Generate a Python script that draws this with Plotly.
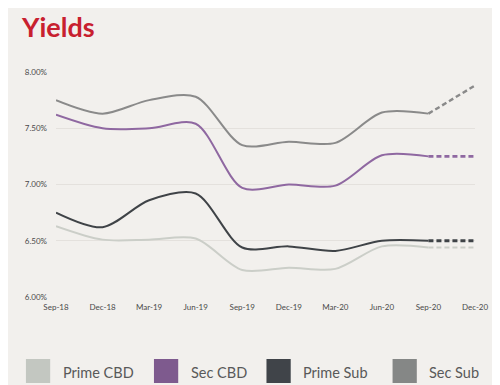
import plotly.graph_objects as go

quarters = ["Sep-18", "Dec-18", "Mar-19", "Jun-19", "Sep-19", "Dec-19",
            "Mar-20", "Jun-20", "Sep-20", "Dec-20"]
series_names = ["Prime CBD", "Sec CBD", "Prime Sub", "Sec Sub"]
prime_cbd = [6.63, 6.51, 6.51, 6.52, 6.24, 6.26, 6.25, 6.45, 6.44, 6.44]
sec_cbd = [7.62, 7.50, 7.50, 7.54, 6.97, 7.00, 6.99, 7.26, 7.25, 7.25]
prime_sub = [6.75, 6.62, 6.86, 6.92, 6.44, 6.45, 6.41, 6.50, 6.50, 6.50]
sec_sub = [7.75, 7.63, 7.75, 7.78, 7.35, 7.38, 7.37, 7.64, 7.63, 7.88]
y_ticks = [6.0, 6.5, 7.0, 7.5, 8.0]
y_tick_labels = ["6.00%", "6.50%", "7.00%", "7.50%", "8.00%"]

line_colors = ["#cbcec8", "#8f68a1", "#3f4347", "#8a8a8a"]
swatch_colors = ["#c3c7c1", "#7e5a8e", "#404449", "#858786"]
forecast_widths = [2.2, 2.6, 3.0, 2.4]
all_series = [prime_cbd, sec_cbd, prime_sub, sec_sub]

fig = go.Figure()
n_actual = 9  # Sep-18 .. Sep-20 actual, Dec-20 forecast
for name, vals, col, fw in zip(series_names, all_series, line_colors, forecast_widths):
    fig.add_trace(go.Scatter(
        x=quarters[:n_actual], y=vals[:n_actual], mode="lines", name=name,
        line=dict(color=col, width=2.0, shape="spline", smoothing=0.85),
        showlegend=False, hoverinfo="skip"))
    fig.add_trace(go.Scatter(
        x=quarters[n_actual - 1:], y=vals[n_actual - 1:], mode="lines", name=name,
        line=dict(color=col, width=fw, dash="5px,3px"),
        showlegend=False, hoverinfo="skip"))

# page body has an 8px margin; figure coordinates are screen pixels minus 8
OFF = 8
FW, FH = 500 - OFF, 385 - OFF
L, R, T, B = 56 - OFF, 488 - OFF, 72 - OFF, 297 - OFF
W, H = R - L, B - T
def px(x):
    return (x - OFF - L) / W
def py(y):
    return (B - (y - OFF)) / H

shapes = []
annotations = []
swatch_x = [25, 157, 273, 403]
for name, sx, sc in zip(series_names, swatch_x, swatch_colors):
    shapes.append(dict(type="rect", xref="paper", yref="paper",
                       x0=px(sx), x1=px(sx + 25), y0=py(359), y1=py(383),
                       fillcolor=sc, line=dict(width=0)))
    annotations.append(dict(xref="paper", yref="paper", x=px(sx + 36), y=py(372),
                            text=name, showarrow=False, xanchor="left", yanchor="middle",
                            font=dict(family="Lato, 'Source Sans Pro', sans-serif", size=14.5, color="#595959")))

fig.update_layout(
    width=FW, height=FH,
    margin=dict(l=L, r=FW - R, t=T, b=FH - B),
    paper_bgcolor="#f2f0ed", plot_bgcolor="#f2f0ed",
    title=dict(text="<b>Yields</b>", x=(22 - OFF) / FW, xanchor="left",
               y=1 - (28 - OFF) / FH, yanchor="middle",
               font=dict(family="Lato, sans-serif", size=27, color="#c8202f")),
    xaxis=dict(type="category", categoryorder="array", categoryarray=quarters,
               range=[0, len(quarters) - 1], showgrid=False, zeroline=False, showline=False,
               ticks="", tickfont=dict(family="Lato, sans-serif", size=8, color="#4a4a4a"),
               ticklabelstandoff=4),
    yaxis=dict(range=[6.0, 8.0], tickvals=y_ticks, ticktext=y_tick_labels,
               showgrid=True, gridcolor="#e4e1dd", gridwidth=1, zeroline=False,
               showline=False, ticks="", ticklabelstandoff=8,
               tickfont=dict(family="Lato, sans-serif", size=8, color="#4a4a4a")),
    shapes=shapes, annotations=annotations,
    showlegend=False,
)

fig.write_html("out.html")
